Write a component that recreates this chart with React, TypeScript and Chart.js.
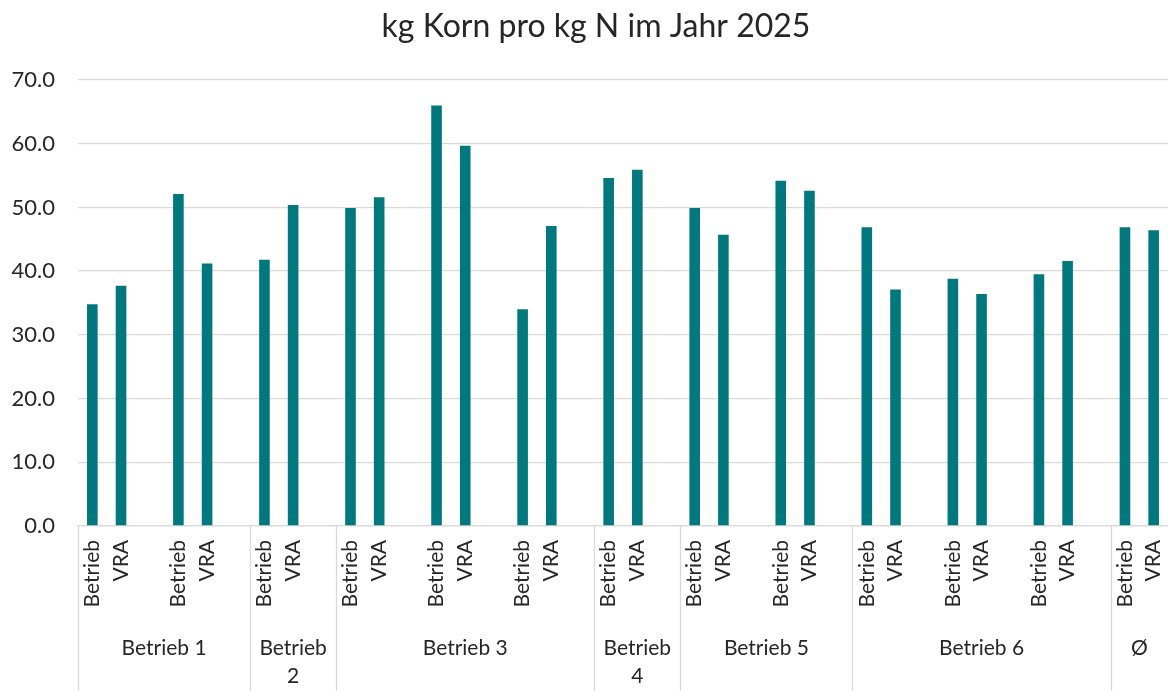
import React, { useEffect, useRef } from "react";
import { Chart, registerables } from "chart.js";

Chart.register(...registerables);

const TITLE = "kg Korn pro kg N im Jahr 2025";
const GROUPS = ["Betrieb 1", "Betrieb 2", "Betrieb 3", "Betrieb 4", "Betrieb 5", "Betrieb 6", "Ø"];
const PAIRS_PER_GROUP = [2, 1, 3, 1, 2, 3, 1];
const SUB_LABELS = ["Betrieb", "VRA"];
const BETRIEB_VALUES = [34.8, 52.1, 41.8, 49.9, 66.0, 34.0, 54.6, 49.9, 54.2, 46.9, 38.8, 39.5, 46.9];
const VRA_VALUES = [37.7, 41.2, 50.4, 51.6, 59.7, 47.1, 55.9, 45.7, 52.6, 37.1, 36.4, 41.6, 46.4];
const Y_MIN = 0;
const Y_MAX = 70;
const Y_STEP = 10;

const BAR_COLOR = "#00787E";
const GRID_COLOR = "#d9d9d9";
const TEXT_COLOR = "#262626";
const FONT = "Lato, 'Noto Sans', sans-serif";

// build slot labels / data (a blank slot separates pairs)
const labels: string[] = [];
const data: (number | null)[] = [];
const groupBounds: { name: string; start: number; end: number }[] = [];
{
  let pair = 0;
  const totalPairs = PAIRS_PER_GROUP.reduce((a, b) => a + b, 0);
  GROUPS.forEach((name, gi) => {
    const start = labels.length;
    for (let p = 0; p < PAIRS_PER_GROUP[gi]; p++) {
      labels.push(SUB_LABELS[0]);
      data.push(BETRIEB_VALUES[pair]);
      labels.push(SUB_LABELS[1]);
      data.push(VRA_VALUES[pair]);
      pair++;
      if (pair < totalPairs) {
        labels.push("");
        data.push(null);
      }
    }
    groupBounds.push({ name, start, end: labels.length });
  });
}

const groupPlugin = {
  id: "groupAxis",
  afterDraw(chart: any) {
    const ctx = chart.ctx;
    const xs = chart.scales.x;
    const area = chart.chartArea;
    const w = xs.getPixelForValue(1) - xs.getPixelForValue(0);
    ctx.save();
    ctx.strokeStyle = GRID_COLOR;
    ctx.lineWidth = 1.3;
    groupBounds.forEach((g) => {
      const px = Math.round(xs.getPixelForValue(g.start) - w / 2) + 0.5;
      ctx.beginPath();
      ctx.moveTo(px, area.bottom);
      ctx.lineTo(px, chart.height);
      ctx.stroke();
    });
    ctx.fillStyle = TEXT_COLOR;
    ctx.font = `21px ${FONT}`;
    ctx.textAlign = "center";
    ctx.textBaseline = "middle";
    groupBounds.forEach((g) => {
      const x0 = xs.getPixelForValue(g.start) - w / 2;
      const x1 = xs.getPixelForValue(g.end) - w / 2;
      const cx = (x0 + x1) / 2;
      const avail = x1 - x0 - 6;
      let lines = [g.name];
      if (ctx.measureText(g.name).width > avail) lines = g.name.split(" ");
      lines.forEach((ln, i) => ctx.fillText(ln, cx, 648 + i * 28));
    });
    // title
    ctx.font = `32px ${FONT}`;
    ctx.textBaseline = "alphabetic";
    ctx.fillText(TITLE, 596, 37);
    ctx.restore();
  },
};

export default function App() {
  const ref = useRef<HTMLCanvasElement>(null);
  useEffect(() => {
    if (!ref.current) return;
    const chart = new Chart(ref.current, {
      type: "bar",
      data: {
        labels,
        datasets: [
          {
            data,
            backgroundColor: BAR_COLOR,
            barPercentage: 0.37,
            categoryPercentage: 1,
          },
        ],
      },
      options: {
        animation: false,
        responsive: true,
        maintainAspectRatio: false,
        layout: { padding: { top: 80, left: 0, right: 0, bottom: 0 } },
        plugins: {
          legend: { display: false },
          title: { display: false },
          tooltip: { enabled: false },
        },
        scales: {
          x: {
            grid: { display: false, drawTicks: false },
            border: { display: true, color: GRID_COLOR, width: 1.3 },
            ticks: {
              autoSkip: false,
              maxRotation: 90,
              minRotation: 90,
              padding: 14,
              color: TEXT_COLOR,
              font: { family: FONT, size: 21 },
            },
            afterFit: (s: any) => {
              s.height = 165;
              s.paddingLeft = 0;
              s.paddingRight = 0;
            },
          },
          y: {
            min: Y_MIN,
            max: Y_MAX,
            grid: { color: GRID_COLOR, lineWidth: 1.3, drawTicks: false },
            border: { display: false },
            ticks: {
              stepSize: Y_STEP,
              padding: 23,
              color: TEXT_COLOR,
              font: { family: FONT, size: 22 },
              callback: (v: any) => Number(v).toFixed(1),
            },
            afterFit: (s: any) => {
              s.width = 78;
            },
          },
        },
      },
      plugins: [groupPlugin],
    });
    return () => chart.destroy();
  }, []);
  return (
    <div style={{ position: "fixed", left: 0, top: 0, width: 1168, height: 691, background: "#fff" }}>
      <canvas ref={ref} />
    </div>
  );
}
